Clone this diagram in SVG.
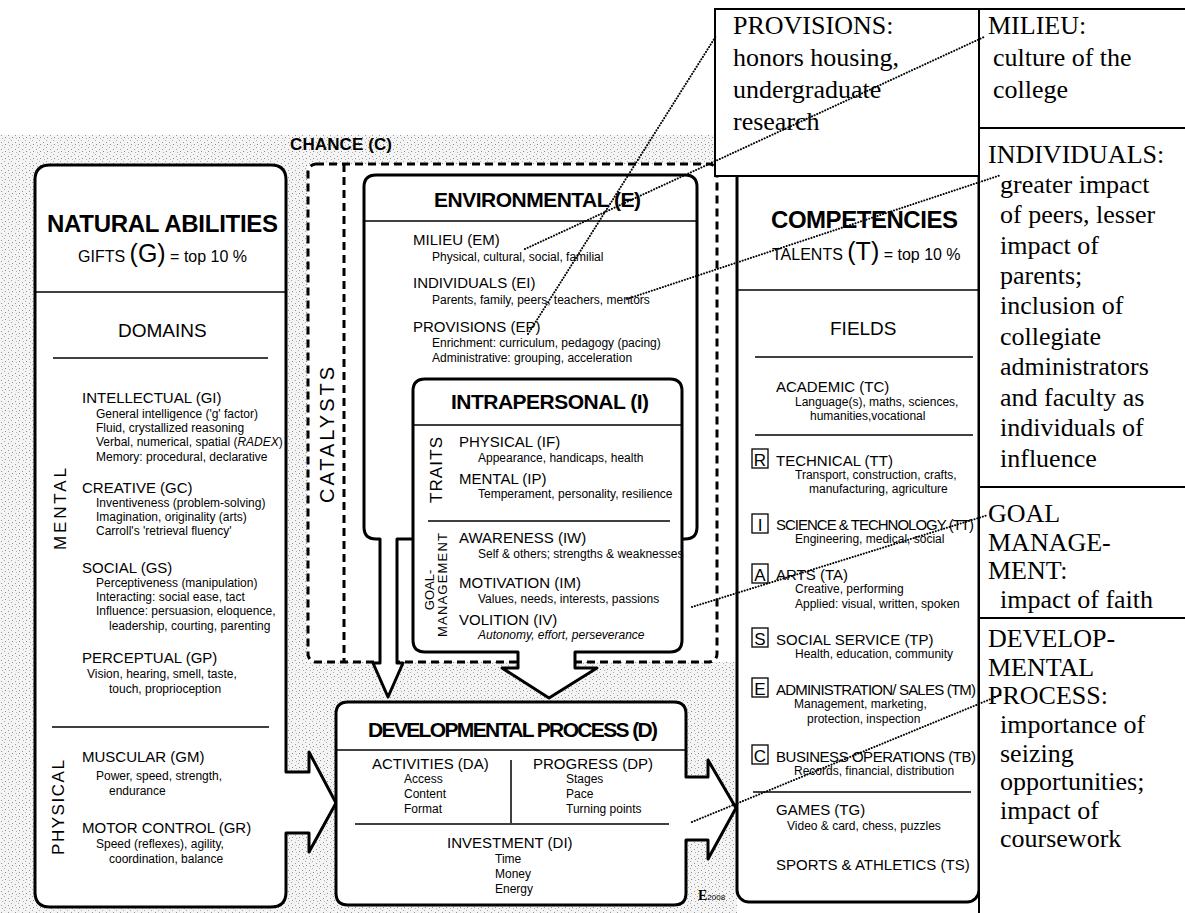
<svg xmlns="http://www.w3.org/2000/svg" width="1185" height="913" viewBox="0 0 1185 913">
<style>
text{font-family:"Liberation Sans",Arial,sans-serif;fill:#000}
.h{font-size:15px}
.s{font-size:12px}
.b{font-weight:bold}
.ttl{font-weight:bold;font-size:21px;text-anchor:middle}
.v{font-size:17px}
.r{font-family:"Liberation Serif","Times New Roman",serif;font-size:26px}
.box{fill:#fff;stroke:#000;stroke-width:3;stroke-linejoin:round}
.thin{stroke:#000;stroke-width:1.5;fill:none}
.dash{fill:none;stroke:#000;stroke-width:3;stroke-dasharray:8 5}
.col{fill:#fff;stroke:#000;stroke-width:2}
.lbox{fill:#fff;stroke:#000;stroke-width:1.3}
.dot{fill:none;stroke:#000;stroke-width:2;stroke-dasharray:0.1 2.8;stroke-linecap:round}
</style>
<defs>
<pattern id="speck" width="7" height="7" patternUnits="userSpaceOnUse">
<rect width="7" height="7" fill="#f4f4f4"/>
<rect x="1" y="2" width="1" height="1" fill="#999"/>
<rect x="4" y="0" width="1" height="1" fill="#aaa"/>
<rect x="5" y="4" width="1" height="1" fill="#8c8c8c"/>
<rect x="2" y="5" width="1" height="1" fill="#b0b0b0"/>
</pattern>
</defs>
<rect width="1185" height="913" fill="#fff"/>
<g id="background">
<rect x="0" y="135" width="737" height="778" fill="url(#speck)"/>
<rect x="308" y="164" width="429" height="498" fill="#fff"/>
</g>

<g id="catalysts">
<rect class="dash" x="308" y="164" width="409" height="498" rx="8"/>
<line class="dash" x1="344" y1="164" x2="344" y2="662"/>
<text class="b" x="290" y="150" font-size="17" textLength="102">CHANCE (C)</text>
<text transform="translate(334,503) rotate(-90)" font-size="20" textLength="136">CATALYSTS</text>
</g>

<g id="environmental">
<path class="box" d="M376,175 H685 Q697,175 697,187 V527 Q697,539 685,539 H397 V663 H403 L388,697 L373,663 H380 V539 H376 Q364,539 364,527 V187 Q364,175 376,175 Z"/>
<line class="thin" x1="364" y1="221" x2="697" y2="221"/>
<text class="ttl" x="537.5" y="207" textLength="207">ENVIRONMENTAL (E)</text>
<text class="h" x="413" y="245">MILIEU (EM)</text>
<text class="s" x="432" y="261">Physical, cultural, social, familial</text>
<text class="h" x="413" y="288">INDIVIDUALS (EI)</text>
<text class="s" x="432" y="304">Parents, family, peers, teachers, mentors</text>
<text class="h" x="413" y="332">PROVISIONS (EP)</text>
<text class="s" x="432" y="347">Enrichment: curriculum, pedagogy (pacing)</text>
<text class="s" x="432" y="362">Administrative: grouping, acceleration</text>
</g>

<g id="intrapersonal">
<path class="box" d="M425,379 H670 Q682,379 682,391 V640 Q682,652 670,652 H575 V668 H597 L549,698 L502,668 H518 V652 H425 Q413,652 413,640 V391 Q413,379 425,379 Z"/>
<line class="thin" x1="413" y1="425" x2="682" y2="425"/>
<text class="ttl" x="550" y="409" textLength="198">INTRAPERSONAL (I)</text>
<text transform="translate(442,503) rotate(-90)" font-size="17" textLength="66">TRAITS</text>
<text class="h" x="459" y="447">PHYSICAL (IF)</text>
<text class="s" x="478" y="462">Appearance, handicaps, health</text>
<text class="h" x="459" y="484">MENTAL (IP)</text>
<text class="s" x="478" y="498">Temperament, personality, resilience</text>
<line class="thin" x1="428" y1="521" x2="670" y2="521"/>
<text transform="translate(434,590) rotate(-90)" font-size="13" text-anchor="middle">GOAL-</text>
<text transform="translate(447,585) rotate(-90)" font-size="13" text-anchor="middle" textLength="104">MANAGEMENT</text>
<text class="h" x="459" y="543">AWARENESS (IW)</text>
<text class="s" x="478" y="558">Self &amp; others; strengths &amp; weaknesses</text>
<text class="h" x="459" y="588">MOTIVATION (IM)</text>
<text class="s" x="478" y="603">Values, needs, interests, passions</text>
<text class="h" x="459" y="625">VOLITION (IV)</text>
<text class="s" x="478" y="639" font-style="italic">Autonomy, effort, perseverance</text>
</g>

<g id="natural-abilities">
<path class="box" d="M50,165 H271 Q286,165 286,180 V772 H309 V752 L336,803 L309,852 V833 H286 V892 Q286,907 271,907 H50 Q35,907 35,892 V180 Q35,165 50,165 Z"/>
<line class="thin" x1="35" y1="292" x2="286" y2="292"/>
<text class="b" x="162.5" y="232" font-size="24" text-anchor="middle" textLength="231">NATURAL ABILITIES</text>
<text x="78" y="262" font-size="16">GIFTS <tspan font-size="25">(G)</tspan> = top 10 %</text>
<text x="118" y="337" font-size="19">DOMAINS</text>
<line class="thin" x1="53" y1="358" x2="268" y2="358"/>
<text transform="translate(66,550) rotate(-90)" class="v" textLength="82">MENTAL</text>
<text class="h" x="82" y="403">INTELLECTUAL (GI)</text>
<text class="s" x="96" y="418">General intelligence ('g' factor)</text>
<text class="s" x="96" y="432">Fluid, crystallized reasoning</text>
<text class="s" x="96" y="446">Verbal, numerical, spatial (<tspan font-style="italic">RADEX</tspan>)</text>
<text class="s" x="96" y="461">Memory: procedural, declarative</text>
<text class="h" x="82" y="493">CREATIVE (GC)</text>
<text class="s" x="96" y="507">Inventiveness (problem-solving)</text>
<text class="s" x="96" y="521">Imagination, originality (arts)</text>
<text class="s" x="96" y="535">Carroll's 'retrieval fluency'</text>
<text class="h" x="82" y="573">SOCIAL (GS)</text>
<text class="s" x="96" y="587">Perceptiveness (manipulation)</text>
<text class="s" x="96" y="601">Interacting: social ease, tact</text>
<text class="s" x="96" y="615">Influence: persuasion, eloquence,</text>
<text class="s" x="109" y="630">leadership, courting, parenting</text>
<text class="h" x="82" y="663">PERCEPTUAL (GP)</text>
<text class="s" x="87" y="678">Vision, hearing, smell, taste,</text>
<text class="s" x="109" y="693">touch, proprioception</text>
<line class="thin" x1="52" y1="727" x2="269" y2="727"/>
<text transform="translate(64,855) rotate(-90)" class="v" textLength="95">PHYSICAL</text>
<text class="h" x="82" y="762">MUSCULAR (GM)</text>
<text class="s" x="96" y="780">Power, speed, strength,</text>
<text class="s" x="109" y="795">endurance</text>
<text class="h" x="82" y="833">MOTOR CONTROL (GR)</text>
<text class="s" x="96" y="848">Speed (reflexes), agility,</text>
<text class="s" x="109" y="863">coordination, balance</text>
</g>

<g id="developmental-process">
<path class="box" d="M348,702 H674 Q686,702 686,714 V777 H708 V760 L736,808 L708,859 V840 H686 V893 Q686,905 674,905 H348 Q336,905 336,893 V714 Q336,702 348,702 Z"/>
<line class="thin" x1="336" y1="750" x2="686" y2="750"/>
<text class="ttl" x="513" y="737" textLength="290">DEVELOPMENTAL PROCESS (D)</text>
<text class="h" x="372" y="769">ACTIVITIES (DA)</text>
<text class="h" x="533" y="769">PROGRESS (DP)</text>
<line class="thin" x1="511" y1="760" x2="511" y2="823"/>
<text class="s" x="404" y="783">Access</text>
<text class="s" x="404" y="798">Content</text>
<text class="s" x="404" y="813">Format</text>
<text class="s" x="566" y="783">Stages</text>
<text class="s" x="566" y="798">Pace</text>
<text class="s" x="566" y="813">Turning points</text>
<line class="thin" x1="355" y1="824" x2="669" y2="824"/>
<text class="h" x="447" y="848">INVESTMENT (DI)</text>
<text class="s" x="495" y="863">Time</text>
<text class="s" x="495" y="878">Money</text>
<text class="s" x="495" y="893">Energy</text>
<text x="698" y="900"><tspan font-family="Liberation Serif,serif" font-weight="bold" font-size="14">E</tspan><tspan font-size="8">2008</tspan></text>
</g>

<g id="competencies">
<rect class="box" x="737" y="165" width="242" height="737" rx="12"/>
<line class="thin" x1="737" y1="290" x2="979" y2="290"/>
<text class="b" x="864.5" y="228" font-size="24" text-anchor="middle" textLength="187">COMPETENCIES</text>
<text x="772" y="260" font-size="16">TALENTS <tspan font-size="25">(T)</tspan> = top 10 %</text>
<text x="830" y="335" font-size="19">FIELDS</text>
<line class="thin" x1="755" y1="357" x2="973" y2="357"/>
<text class="h" x="776" y="392">ACADEMIC (TC)</text>
<text class="s" x="795" y="406">Language(s), maths, sciences,</text>
<text class="s" x="810" y="420">humanities,vocational</text>
<line class="thin" x1="755" y1="435" x2="973" y2="435"/>
<rect class="lbox" x="752" y="449" width="16" height="19"/>
<text x="760" y="466" font-size="17" text-anchor="middle">R</text>
<text class="h" x="776" y="466">TECHNICAL (TT)</text>
<text class="s" x="795" y="479">Transport, construction, crafts,</text>
<text class="s" x="809" y="493">manufacturing, agriculture</text>
<rect class="lbox" x="752" y="514" width="16" height="19"/>
<text x="760" y="531" font-size="17" text-anchor="middle">I</text>
<text class="h" x="776" y="530" textLength="198">SCIENCE &amp; TECHNOLOGY (TT)</text>
<text class="s" x="795" y="543">Engineering, medical, social</text>
<rect class="lbox" x="752" y="564" width="16" height="19"/>
<text x="760" y="581" font-size="17" text-anchor="middle">A</text>
<text class="h" x="776" y="580">ARTS (TA)</text>
<text class="s" x="795" y="593">Creative, performing</text>
<text class="s" x="795" y="608">Applied: visual, written, spoken</text>
<rect class="lbox" x="752" y="628" width="16" height="19"/>
<text x="760" y="645" font-size="17" text-anchor="middle">S</text>
<text class="h" x="776" y="645">SOCIAL SERVICE (TP)</text>
<text class="s" x="795" y="658">Health, education, community</text>
<rect class="lbox" x="752" y="678" width="16" height="19"/>
<text x="760" y="695" font-size="17" text-anchor="middle">E</text>
<text class="h" x="776" y="695" textLength="200">ADMINISTRATION/ SALES (TM)</text>
<text class="s" x="794" y="708">Management, marketing,</text>
<text class="s" x="807" y="723">protection, inspection</text>
<rect class="lbox" x="752" y="745" width="16" height="19"/>
<text x="760" y="762" font-size="17" text-anchor="middle">C</text>
<text class="h" x="776" y="762" textLength="200">BUSINESS OPERATIONS (TB)</text>
<text class="s" x="794" y="775">Records, financial, distribution</text>
<line class="thin" x1="753" y1="792" x2="971" y2="792"/>
<text class="h" x="776" y="815">GAMES (TG)</text>
<text class="s" x="787" y="830">Video &amp; card, chess, puzzles</text>
<text class="h" x="776" y="870">SPORTS &amp; ATHLETICS (TS)</text>
</g>

<g id="note-provisions">
<rect class="col" x="715" y="9" width="264" height="167"/>
<text class="r" x="733" y="34">PROVISIONS:</text>
<text class="r" x="733" y="66">honors housing,</text>
<text class="r" x="733" y="98">undergraduate</text>
<text class="r" x="733" y="130">research</text>
</g>
<g id="note-milieu">
<path class="col" d="M979,9 H1186 V128 H979 Z"/>
<text class="r" x="988" y="34">MILIEU:</text>
<text class="r" x="993" y="66">culture of the</text>
<text class="r" x="993" y="98">college</text>
</g>
<g id="note-individuals">
<path class="col" d="M979,128 H1186 V487 H979 Z"/>
<text class="r" x="988" y="163">INDIVIDUALS:</text>
<text class="r" x="1000" y="193">greater impact</text>
<text class="r" x="1000" y="223">of peers, lesser</text>
<text class="r" x="1000" y="254">impact of</text>
<text class="r" x="1000" y="284">parents;</text>
<text class="r" x="1000" y="314">inclusion of</text>
<text class="r" x="1000" y="345">collegiate</text>
<text class="r" x="1000" y="375">administrators</text>
<text class="r" x="1000" y="406">and faculty as</text>
<text class="r" x="1000" y="436">individuals of</text>
<text class="r" x="1000" y="467">influence</text>
</g>
<g id="note-goal-management">
<path class="col" d="M979,487 H1186 V618 H979 Z"/>
<text class="r" x="988" y="522">GOAL</text>
<text class="r" x="988" y="551">MANAGE-</text>
<text class="r" x="988" y="579">MENT:</text>
<text class="r" x="1000" y="608">impact of faith</text>
</g>
<g id="note-developmental-process">
<path class="col" d="M1186,618 H979 V913"/>
<text class="r" x="988" y="647">DEVELOP-</text>
<text class="r" x="988" y="676">MENTAL</text>
<text class="r" x="988" y="704">PROCESS:</text>
<text class="r" x="1000" y="733">importance of</text>
<text class="r" x="1000" y="762">seizing</text>
<text class="r" x="1000" y="790">opportunities;</text>
<text class="r" x="1000" y="819">impact of</text>
<text class="r" x="1000" y="847">coursework</text>
</g>

<g id="connectors">
<line class="dot" x1="525" y1="249" x2="984" y2="37"/>
<line class="dot" x1="528" y1="334" x2="716" y2="36"/>
<line class="dot" x1="627" y1="299" x2="1001" y2="175"/>
<line class="dot" x1="692" y1="607" x2="988" y2="515"/>
<line class="dot" x1="692" y1="822" x2="1003" y2="694"/>
</g>
</svg>
